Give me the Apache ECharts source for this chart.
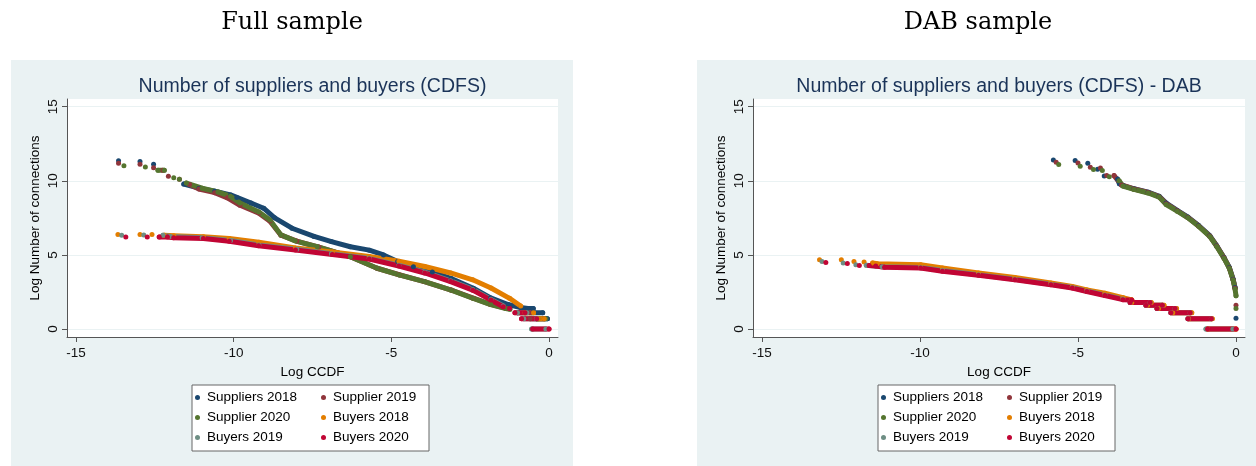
<!DOCTYPE html>
<html>
<head>
<meta charset="utf-8">
<script src="https://cdn.jsdelivr.net/npm/echarts@6/dist/echarts.min.js"></script>
<style>
html, body { margin: 0; padding: 0; background: #fff; }
#main { width: 1256px; height: 466px; }
</style>
</head>
<body>
<div id="main"></div>
<script>
// series names and Stata s2color palette
var seriesNames = ['Suppliers 2018', 'Supplier 2019', 'Supplier 2020', 'Buyers 2018', 'Buyers 2019', 'Buyers 2020'];
var seriesColors = ['#1a476f', '#90353b', '#55752f', '#e37e00', '#6e8e84', '#c10534'];
var xTicks = [-15, -10, -5, 0];
var yTicks = [0, 5, 10, 15];

// Full sample: [log CCDF, log number of connections], null = gap
var fullSup2018 = [[-13.65, 11.35], null, [-12.97, 11.3], null, [-12.54, 11.12], null, [-11.58, 9.78],
  [-11.1, 9.5], [-10.6, 9.3], [-10.1, 9.05], [-9.9, 8.88], [-9.45, 8.5], [-9.05, 8.15], [-8.7, 7.5], [-8.15, 6.8],
  [-7.45, 6.25], [-6.9, 5.9], [-6.3, 5.55], [-5.7, 5.32], [-5.25, 5.0], [-4.8, 4.55], [-4.3, 4.2], [-3.7, 3.85],
  [-3.1, 3.4], [-2.4, 2.75], [-1.85, 2.1], [-1.3, 1.65], [-0.9, 1.45], [-0.67, 1.39], [-0.5, 1.39], null,
  [-0.55, 1.1], [-0.2, 1.1], null, [-0.39, 0.69], [-0.05, 0.69]];
var fullSup2019 = [[-13.65, 11.18], null, [-12.97, 11.12], null, [-12.54, 10.88], null, [-12.25, 10.72], null,
  [-12.07, 10.3], null, [-11.72, 10.1], null, [-11.4, 9.75], [-11.1, 9.45], [-10.6, 9.2], [-10.2, 8.85], [-9.8, 8.35],
  [-9.2, 7.82], [-8.85, 7.28], [-8.5, 6.33], [-8.0, 5.93], [-7.3, 5.53], [-6.3, 4.88], [-5.45, 4.1], [-4.75, 3.66],
  [-3.95, 3.2], [-3.1, 2.63], [-2.4, 2.08], [-1.85, 1.66], [-1.35, 1.4], null, [-1.0, 1.1], [-0.6, 1.1], null,
  [-0.6, 0.69], [-0.15, 0.69]];
var fullSup2020 = [[-13.48, 11.02], null, [-12.8, 10.93], null, [-12.4, 10.72], [-12.2, 10.72], null, [-11.9, 10.2],
  null, [-11.72, 10.11], null, [-11.5, 9.85], [-11.0, 9.5], [-10.5, 9.25], [-10.1, 8.95], [-9.8, 8.5], [-9.2, 7.9],
  [-8.85, 7.35], [-8.5, 6.35], [-8.05, 5.95], [-7.35, 5.55], [-6.3, 4.88], [-5.45, 4.1], [-4.75, 3.65], [-3.95, 3.2],
  [-3.1, 2.62], [-2.4, 2.06], [-1.85, 1.65], [-1.37, 1.38], [-1.24, 1.33], null, [-0.35, 0.69], [-0.1, 0.69]];
var fullBuy2018 = [[-13.67, 6.38], null, [-12.97, 6.38], null, [-12.59, 6.37], null, [-12.2, 6.33], [-11.9, 6.3],
  [-10.96, 6.23], [-10.14, 6.1], [-9.2, 5.85], [-8.04, 5.47], [-6.87, 5.2], [-5.7, 4.9], [-4.76, 4.57], [-3.94, 4.22],
  [-3.12, 3.78], [-2.42, 3.32], [-1.84, 2.77], [-1.25, 2.07], [-0.9, 1.55], null, [-0.76, 1.1], [-0.49, 1.1], null,
  [-0.35, 0.69], [-0.15, 0.69]];
var fullBuy2019 = [[-13.55, 6.33], null, [-12.85, 6.35], null, [-12.24, 6.33], [-12.0, 6.25], [-11.0, 6.15],
  [-10.1, 5.97], [-9.2, 5.67], [-8.0, 5.38], [-6.9, 5.08], [-5.7, 4.77], [-4.76, 4.3], [-3.94, 3.83], [-3.12, 3.25],
  [-2.42, 2.67], [-1.84, 2.0], [-1.45, 1.55], null, [-1.0, 1.1], [-0.7, 1.1], null, [-0.8, 0.69],
  [-0.4, 0.69], null, [-0.55, 0], [-0.1, 0]];
var fullBuy2020 = [[-13.42, 6.2], null, [-12.74, 6.2], null, [-12.36, 6.2], [-12.1, 6.2], [-11.9, 6.16],
  [-10.96, 6.1], [-10.14, 5.92], [-9.21, 5.62], [-8.04, 5.33], [-6.87, 5.03], [-5.7, 4.72], [-4.76, 4.25],
  [-3.94, 3.78], [-3.12, 3.2], [-2.42, 2.62], [-1.84, 1.95], [-1.45, 1.5], [-1.25, 1.39], null, [-1.08, 1.1],
  [-0.76, 1.1], null, [-0.87, 0.69], [-0.39, 0.69], null, [-0.52, 0], [0.0, 0]];

// DAB sample
var dabSup2018 = [[-5.78, 11.41], null, [-5.09, 11.37], null, [-4.69, 11.19], null, [-4.38, 10.78], null,
  [-4.17, 10.32], null, [-3.75, 10.12], [-3.69, 9.8], [-3.58, 9.68], [-3.23, 9.46], [-2.78, 9.23], [-2.43, 8.95],
  [-2.21, 8.5], [-1.86, 8.0], [-1.52, 7.55], [-1.18, 6.98], [-0.83, 6.3], [-0.61, 5.62], [-0.38, 4.82],
  [-0.21, 4.15], [-0.09, 3.35], [-0.03, 2.8], null, [0, 0.72]];
var dabSup2019 = [[-5.69, 11.25], null, [-5.0, 11.2], null, [-4.61, 10.91], null, [-4.29, 10.87], null,
  [-4.09, 10.35], null, [-3.86, 10.35], [-3.62, 9.72], [-3.23, 9.45], [-2.78, 9.21], [-2.43, 8.93], [-2.21, 8.46],
  [-1.86, 7.98], [-1.52, 7.52], [-1.18, 6.95], [-0.83, 6.27], [-0.61, 5.6], [-0.38, 4.8], [-0.21, 4.12],
  [-0.09, 3.32], [-0.03, 2.75], null, [0, 1.6]];
var dabSup2020 = [[-5.61, 11.1], null, [-4.93, 10.98], null, [-4.51, 10.76], null, [-4.23, 10.69], null,
  [-4.01, 10.28], null, [-3.7, 10.0], [-3.58, 9.65], [-3.23, 9.42], [-2.78, 9.18], [-2.43, 8.9], [-2.21, 8.4],
  [-1.86, 7.95], [-1.52, 7.5], [-1.18, 6.93], [-0.83, 6.25], [-0.61, 5.57], [-0.38, 4.78], [-0.21, 4.1],
  [-0.09, 3.3], [-0.03, 2.7], [0, 2.25], null, [0, 1.39]];
var dabBuy2018 = [[-13.18, 4.67], null, [-12.49, 4.67], null, [-12.09, 4.56], null, [-11.77, 4.52], null,
  [-11.5, 4.45], [-11.35, 4.4], [-9.98, 4.33], [-9.29, 4.12], [-8.15, 3.78], [-7.0, 3.48], [-5.86, 3.1],
  [-5.18, 2.87], [-4.72, 2.64], [-4.15, 2.42], [-3.58, 2.12], [-3.3, 1.97], null, [-3.3, 1.79], [-2.68, 1.79], null,
  [-2.8, 1.61], [-2.28, 1.61], null, [-2.45, 1.39], [-1.88, 1.39], null, [-2.0, 1.1], [-1.4, 1.1], null,
  [-1.5, 0.69], [-0.75, 0.69], null, [-0.9, 0], [0, 0]];
var dabBuy2019 = [[-13.1, 4.56], null, [-12.43, 4.45], null, [-12.03, 4.33], null, [-11.7, 4.3], [-11.2, 4.2],
  [-9.98, 4.15], [-9.29, 3.95], [-8.15, 3.66], [-7.0, 3.36], [-5.86, 3.02], [-5.18, 2.8], [-4.72, 2.56],
  [-4.15, 2.3], [-3.58, 2.02], null, [-3.35, 1.79], [-2.72, 1.79], null, [-2.85, 1.61], [-2.33, 1.61], null,
  [-2.5, 1.39], [-1.93, 1.39], null, [-2.06, 1.1], [-1.45, 1.1], null, [-1.52, 0.69], [-0.78, 0.69], null,
  [-0.95, 0], [-0.1, 0]];
var dabBuy2020 = [[-12.98, 4.49], null, [-12.3, 4.42], null, [-11.92, 4.29], null, [-11.61, 4.29], [-11.4, 4.25],
  [-11.12, 4.17], [-9.98, 4.12], [-9.29, 3.9], [-8.15, 3.62], [-7.0, 3.32], [-5.86, 2.98], [-5.18, 2.76],
  [-4.72, 2.53], [-4.15, 2.26], [-3.58, 1.98], [-3.3, 1.95], null, [-3.35, 1.79], [-2.72, 1.79], null,
  [-2.85, 1.61], [-2.33, 1.61], null, [-2.5, 1.39], [-1.93, 1.39], null, [-2.06, 1.1], [-1.45, 1.1], null,
  [-1.52, 0.69], [-0.78, 0.69], null, [-0.9, 0], [0, 0]];

var fullData = [fullSup2018, fullSup2019, fullSup2020, fullBuy2018, fullBuy2019, fullBuy2020];
var dabData = [dabSup2018, dabSup2019, dabSup2020, dabBuy2018, dabBuy2019, dabBuy2020];

var chart = echarts.init(document.getElementById('main'));

function toSeriesData(arr) {
  return arr.map(function (p) { return p === null ? ['-', '-'] : p; });
}

var series = [];
[fullData, dabData].forEach(function (panel, pi) {
  panel.forEach(function (arr, i) {
    series.push({
      name: seriesNames[i],
      type: 'line',
      xAxisIndex: pi,
      yAxisIndex: pi,
      data: toSeriesData(arr),
      color: seriesColors[i],
      symbol: 'circle',
      symbolSize: 5,
      showSymbol: true,
      showAllSymbol: true,
      connectNulls: false,
      animation: false,
      lineStyle: { width: 5, cap: 'round', join: 'round' },
      emphasis: { disabled: true }
    });
  });
});

function makeX(idx) {
  return {
    type: 'value', gridIndex: idx, min: -15.285, max: 0.285,
    name: 'Log CCDF', nameLocation: 'middle', nameGap: 25,
    nameTextStyle: { fontSize: 13.5, color: '#000' },
    axisLine: { onZero: false, lineStyle: { color: '#555', width: 1 } },
    axisTick: { length: 5, lineStyle: { color: '#555' }, customValues: xTicks },
    axisLabel: { fontSize: 13.5, color: '#111', margin: 9, customValues: xTicks },
    splitLine: { show: false }
  };
}
function makeY(idx) {
  return {
    type: 'value', gridIndex: idx, min: -0.54, max: 15.52,
    name: 'Log Number of connections', nameLocation: 'middle', nameGap: 25,
    nameTextStyle: { fontSize: 13.5, color: '#000' },
    axisLine: { show: true, onZero: false, lineStyle: { color: '#555', width: 1 } },
    axisTick: { show: true, length: 5, lineStyle: { color: '#555' }, customValues: yTicks },
    axisLabel: { fontSize: 13.5, color: '#111', rotate: 90, margin: 7, customValues: yTicks },
    splitLine: { show: true, lineStyle: { color: '#eaf2f3', width: 1 } }
  };
}

function makeLegend(left) {
  return {
    left: left, top: 385, orient: 'horizontal', width: 260,
    icon: 'circle', itemWidth: 9, itemHeight: 5, itemGap: 5,
    padding: [5, 2, 6, 3],
    backgroundColor: '#fff', borderColor: '#666', borderWidth: 1, borderRadius: 0,
    textStyle: { fontSize: 13.5, color: '#000', lineHeight: 15 },
    data: seriesNames.map(function (n, i) {
      return { name: n, textStyle: { width: i % 2 === 0 ? 109 : 94 } };
    })
  };
}

option = {
  animation: false,
  textStyle: { fontFamily: 'Liberation Sans' },
  graphic: [
    { type: 'rect', z: -10, shape: { x: 11, y: 60, width: 562, height: 406 }, style: { fill: '#eaf2f3' } },
    { type: 'rect', z: -10, shape: { x: 697, y: 60, width: 562, height: 406 }, style: { fill: '#eaf2f3' } },
    { type: 'text', x: 292, y: 23, style: { text: 'Full sample', fill: '#000', fontSize: 24, fontFamily: 'DejaVu Serif', align: 'center', verticalAlign: 'middle' } },
    { type: 'text', x: 978, y: 23, style: { text: 'DAB sample', fill: '#000', fontSize: 24, fontFamily: 'DejaVu Serif', align: 'center', verticalAlign: 'middle' } },
    { type: 'text', x: 312.5, y: 87, style: { text: 'Number of suppliers and buyers (CDFS)', fill: '#1a3358', fontSize: 19.5, fontFamily: 'Liberation Sans', align: 'center', verticalAlign: 'middle' } },
    { type: 'text', x: 999, y: 87, style: { text: 'Number of suppliers and buyers (CDFS) - DAB', fill: '#1a3358', fontSize: 19.5, fontFamily: 'Liberation Sans', align: 'center', verticalAlign: 'middle' } }
  ],
  grid: [
    { left: 67, top: 99, width: 491, height: 238, show: true, backgroundColor: '#fff', borderWidth: 0 },
    { left: 753, top: 99, width: 492, height: 238, show: true, backgroundColor: '#fff', borderWidth: 0 }
  ],
  xAxis: [makeX(0), makeX(1)],
  yAxis: [makeY(0), makeY(1)],
  legend: [makeLegend(192), makeLegend(878)],
  series: series
};

chart.setOption(option);
</script>
</body>
</html>
